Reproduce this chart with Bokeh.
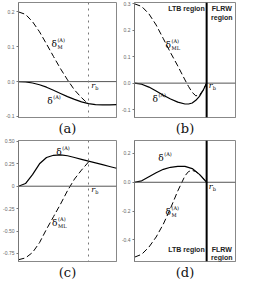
from bokeh.plotting import figure
from bokeh.layouts import gridplot
from bokeh.models import Span, Label, FixedTicker
from bokeh.embed import file_html
from bokeh.resources import INLINE

# ---------------- data ----------------
# panel (a)
a_dash_x = [0, 0.1, 0.2, 0.3, 0.4, 0.5, 0.6, 0.7, 0.8, 0.9, 1.0]
a_dash_y = [0.2, 0.193, 0.172, 0.143, 0.108, 0.072, 0.037, 0.005, -0.024, -0.046, -0.065]
a_sol_x = [0, 0.1, 0.2, 0.3, 0.4, 0.5, 0.6, 0.7, 0.8, 0.9, 1.0, 1.1, 1.2, 1.3, 1.4]
a_sol_y = [0, -0.001, -0.004, -0.009, -0.016, -0.025, -0.034, -0.043, -0.051, -0.058,
           -0.063, -0.066, -0.067, -0.067, -0.066]
a_ticks = [0.2, 0.1, 0.0, -0.1]
a_tick_labels = ["0.2", "0.1", "0.0", "-0.1"]

# panel (b)
b_dash_x = [0, 0.1, 0.2, 0.3, 0.4, 0.5, 0.6, 0.7, 0.75, 0.8, 0.85, 0.9, 0.95, 1.0]
b_dash_y = [0.300, 0.290, 0.262, 0.220, 0.168, 0.115, 0.065, 0.012, -0.013, -0.035,
            -0.048, -0.045, -0.027, 0.0]
b_sol_x = [0, 0.1, 0.2, 0.3, 0.4, 0.5, 0.6, 0.7, 0.75, 0.8, 0.85, 0.9, 0.95, 1.0]
b_sol_y = [0, -0.004, -0.015, -0.03, -0.046, -0.06, -0.072, -0.079, -0.079, -0.075,
           -0.065, -0.05, -0.028, 0.0]
b_ticks = [0.3, 0.2, 0.1, 0.0, -0.1]
b_tick_labels = ["0.3", "0.2", "0.1", "0.0", "-0.1"]

# panel (c)
c_sol_x = [0, 0.1, 0.2, 0.3, 0.4, 0.5, 0.6, 0.7, 0.8, 0.9, 1.0, 1.1, 1.2, 1.3, 1.4]
c_sol_y = [0, 0.03, 0.13, 0.25, 0.32, 0.345, 0.35, 0.34, 0.32, 0.3, 0.28, 0.26, 0.24, 0.22, 0.2]
c_dash_x = [0, 0.1, 0.2, 0.3, 0.4, 0.5, 0.6, 0.7, 0.8, 0.9, 1.0]
c_dash_y = [-0.82, -0.80, -0.74, -0.63, -0.48, -0.34, -0.2, -0.05, 0.08, 0.18, 0.27]
c_ticks = [0.5, 0.25, 0.0, -0.25, -0.5, -0.75]
c_tick_labels = ["0.50", "0.25", "0", "-0.25", "-0.50", "-0.75"]

# panel (d)
d_sol_x = [0, 0.1, 0.2, 0.3, 0.4, 0.5, 0.6, 0.7, 0.8, 0.9, 1.0]
d_sol_y = [0, 0.01, 0.038, 0.066, 0.09, 0.104, 0.11, 0.11, 0.095, 0.055, 0.0]
d_dash_x = [0, 0.1, 0.2, 0.3, 0.4, 0.5, 0.6, 0.7, 0.75, 0.8, 0.85, 0.9, 0.95, 1.0]
d_dash_y = [-0.52, -0.5, -0.45, -0.38, -0.29, -0.18, -0.06, 0.045, 0.075, 0.082, 0.075,
            0.055, 0.03, 0.0]
d_ticks = [0.2, 0.0, -0.2, -0.4]
d_tick_labels = ["0.2", "0.0", "-0.2", "-0.4"]

r_b = 1.0
x_max = 1.4

SERIF = "DejaVu Serif"
SANS = "Liberation Sans"
INK = "black"


def make_fig(w, h, yr, ticks, labels, caption):
    p = figure(width=w, height=h, x_range=(0, x_max), y_range=yr,
               output_backend="svg", toolbar_location=None,
               min_border_left=0, min_border_right=2, min_border_top=2,
               min_border_bottom=0)
    p.grid.visible = False
    p.outline_line_color = "#888888"
    p.background_fill_color = "white"
    p.border_fill_color = "white"
    ya = p.yaxis[0]
    ya.ticker = FixedTicker(ticks=ticks)
    ya.major_label_overrides = {t: l for t, l in zip(ticks, labels)}
    ya.major_label_text_font_size = "5px"
    ya.major_label_text_color = "#666666"
    ya.major_label_text_font = SANS
    ya.major_tick_in = 0
    ya.major_tick_out = 2
    ya.major_tick_line_color = "#777777"
    ya.minor_tick_line_color = None
    ya.axis_line_color = "#777777"
    ya.major_label_standoff = 2
    xa = p.xaxis[0]
    xa.ticker = FixedTicker(ticks=[])
    xa.major_tick_in = 0
    xa.major_tick_out = 0
    xa.minor_tick_in = 0
    xa.minor_tick_out = 0
    xa.major_label_standoff = 0
    xa.axis_line_color = "#888888"
    xa.axis_label = caption
    xa.axis_label_text_font = SERIF
    xa.axis_label_text_font_style = "normal"
    xa.axis_label_text_font_size = "13px"
    xa.axis_label_text_color = "#111111"
    xa.axis_label_standoff = 3
    p.add_layout(Span(location=0, dimension="width", line_color="#555555", line_width=1))
    return p


def delta_label(p, x, y, sub=None):
    p.add_layout(Label(x=x, y=y, text="δ", text_font=SERIF, text_font_size="9px",
                       text_baseline="middle", text_color=INK))
    p.add_layout(Label(x=x, y=y, x_offset=6, y_offset=4, text="(A)", text_font=SERIF,
                       text_font_size="5px", text_baseline="middle", text_color=INK))
    if sub:
        p.add_layout(Label(x=x, y=y, x_offset=6, y_offset=-3, text=sub, text_font=SERIF,
                           text_font_size="5px", text_baseline="middle", text_color=INK))


def rb_label(p, x, y):
    p.add_layout(Label(x=x, y=y, text="r", text_font=SERIF, text_font_size="8px",
                       text_font_style="italic", text_baseline="middle", text_color=INK))
    p.add_layout(Label(x=x, y=y, x_offset=4, y_offset=-2, text="b", text_font=SERIF,
                       text_font_size="5px", text_baseline="middle", text_color=INK))


def region_labels(p, x1, x2, y1, y2):
    kw = dict(text_font=SANS, text_font_size="7px", text_font_style="bold",
              text_align="center", text_baseline="middle", text_color="#222222")
    p.add_layout(Label(x=x1, y=y1, text="LTB region", **kw))
    p.add_layout(Label(x=x2, y=y1, text="FLRW", **kw))
    p.add_layout(Label(x=x2, y=y2, text="region", **kw))


DASH = "6 3"

# (a)
pa = make_fig(118, 138, (-0.103, 0.227), a_ticks, a_tick_labels, "(a)")
pa.line(a_dash_x, a_dash_y, line_color="black", line_width=1, line_dash=DASH)
pa.line(a_sol_x, a_sol_y, line_color="black", line_width=1.2)
pa.add_layout(Span(location=r_b, dimension="height", line_color="#777777",
                   line_width=1, line_dash="dotted"))
delta_label(pa, 0.47, 0.108, "M")
delta_label(pa, 0.41, -0.057)
rb_label(pa, 1.04, -0.012)

# (b)
pb = make_fig(119, 138, (-0.13, 0.305), b_ticks, b_tick_labels, "(b)")
pb.line(b_dash_x, b_dash_y, line_color="black", line_width=1, line_dash=DASH)
pb.line(b_sol_x, b_sol_y, line_color="black", line_width=1.2)
pb.add_layout(Span(location=r_b, dimension="height", line_color="black", line_width=2))
delta_label(pb, 0.43, 0.146, "ML")
delta_label(pb, 0.25, -0.061)
rb_label(pb, 1.03, -0.01)
region_labels(pb, 0.72, 1.21, 0.282, 0.25)

# (c)
pc = make_fig(118, 144, (-0.84, 0.51), c_ticks, c_tick_labels, "(c)")
pc.line(c_sol_x, c_sol_y, line_color="black", line_width=1.2)
pc.line(c_dash_x, c_dash_y, line_color="black", line_width=1, line_dash=DASH)
pc.add_layout(Span(location=r_b, dimension="height", line_color="#777777",
                   line_width=1, line_dash="dotted"))
delta_label(pc, 0.54, 0.386)
delta_label(pc, 0.48, -0.41, "ML")
rb_label(pc, 1.04, -0.04)

# (d)
pd_ = make_fig(119, 144, (-0.55, 0.29), d_ticks, d_tick_labels, "(d)")
pd_.line(d_sol_x, d_sol_y, line_color="black", line_width=1.2)
pd_.line(d_dash_x, d_dash_y, line_color="black", line_width=1, line_dash=DASH)
pd_.add_layout(Span(location=r_b, dimension="height", line_color="black", line_width=2))
delta_label(pd_, 0.33, 0.166)
delta_label(pd_, 0.43, -0.207, "M")
rb_label(pd_, 1.03, -0.03)
region_labels(pd_, 0.72, 1.21, -0.47, -0.52)

grid = gridplot([[pa, pb], [pc, pd_]], toolbar_location=None)

open("out.html", "w").write(file_html(grid, INLINE))
